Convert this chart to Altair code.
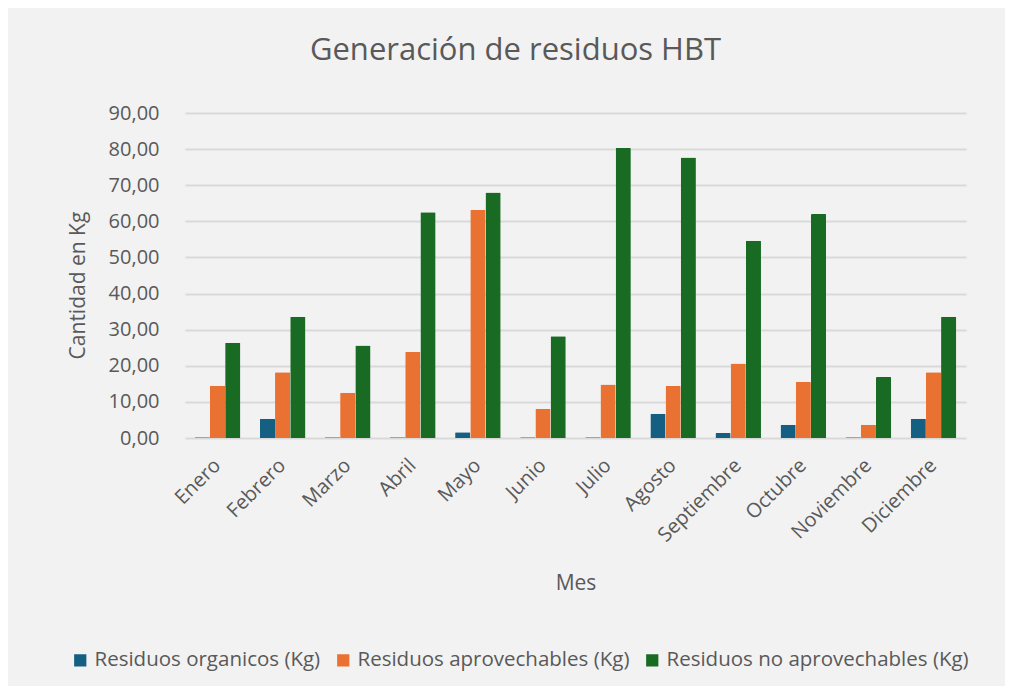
import altair as alt
import pandas as pd

meses = ["Enero", "Febrero", "Marzo", "Abril", "Mayo", "Junio", "Julio",
         "Agosto", "Septiembre", "Octubre", "Noviembre", "Diciembre"]
series = ["Residuos organicos (Kg)", "Residuos aprovechables (Kg)",
          "Residuos no aprovechables (Kg)"]
organicos = [0.2, 5.3, 0.2, 0.2, 1.6, 0.2, 0.2, 6.7, 1.4, 3.7, 0.2, 5.3]
aprovechables = [14.5, 18.2, 12.5, 23.8, 63.2, 8.1, 14.8, 14.4, 20.6, 15.5, 3.7, 18.2]
no_aprovechables = [26.4, 33.6, 25.6, 62.5, 68.0, 28.2, 80.3, 77.7, 54.6, 62.0, 16.9, 33.6]
colores = ["#156082", "#E97132", "#196B24"]

rows = []
for s, vals in zip(series, [organicos, aprovechables, no_aprovechables]):
    for m, v in zip(meses, vals):
        rows.append({"Mes": m, "Serie": s, "Valor": v})
df = pd.DataFrame(rows)

FONT = "Open Sans"
GREY = "#595959"

chart = alt.Chart(df).mark_bar(cornerRadiusTopLeft=1, cornerRadiusTopRight=1).encode(
    x=alt.X("Mes:N", sort=meses,
            scale=alt.Scale(paddingInner=0.3, paddingOuter=0.15),
            axis=alt.Axis(title="Mes", labelAngle=-45, labelAlign="right",
                          labelBaseline="middle", labelPadding=24, ticks=False,
                          domain=False, labelFontSize=20, labelColor=GREY,
                          labelFont=FONT, titleFont=FONT, titleFontSize=21,
                          titleFontWeight="normal", titleColor=GREY,
                          titleY=145, titleBaseline="middle")),
    xOffset=alt.XOffset("Serie:N", sort=series,
                        scale=alt.Scale(paddingInner=0, paddingOuter=0)),
    y=alt.Y("Valor:Q",
            scale=alt.Scale(domain=[0, 90], nice=False),
            axis=alt.Axis(title="Cantidad en Kg", values=list(range(0, 100, 10)),
                          labelExpr="replace(format(datum.value, '.2f'), '.', ',')",
                          ticks=False, domain=False, labelPadding=26,
                          labelFontSize=20, labelColor=GREY, labelFont=FONT,
                          gridColor="#d9d9d9", gridWidth=2,
                          titleFont=FONT, titleFontSize=21, titleFontWeight="normal",
                          titleColor=GREY, titleX=-107, titleY=172,
                          titleAngle=-90, titleAlign="center",
                          titleBaseline="middle")),
    color=alt.Color("Serie:N", sort=series,
                    scale=alt.Scale(domain=series, range=colores),
                    legend=alt.Legend(title=None, orient="none", legendX=-115,
                                      legendY=537, direction="horizontal",
                                      columns=3, symbolType="square",
                                      symbolSize=150, symbolStrokeWidth=0,
                                      labelFontSize=20.5, labelColor=GREY,
                                      labelFont=FONT, columnPadding=12,
                                      labelOffset=4, labelLimit=400)),
).properties(
    width=781, height=325,
    title=alt.TitleParams("Generación de residuos HBT", font=FONT, fontSize=31,
                          fontWeight="normal", color=GREY, anchor="middle",
                          dx=-60, offset=36),
    autosize=alt.AutoSizeParams(type="none"),
    padding={"left": 177, "top": 105, "right": 39, "bottom": 248},
).configure(background="#f2f2f2").configure_view(stroke=None)

chart.save("out.html", embed_options={"renderer": "svg", "actions": False})
